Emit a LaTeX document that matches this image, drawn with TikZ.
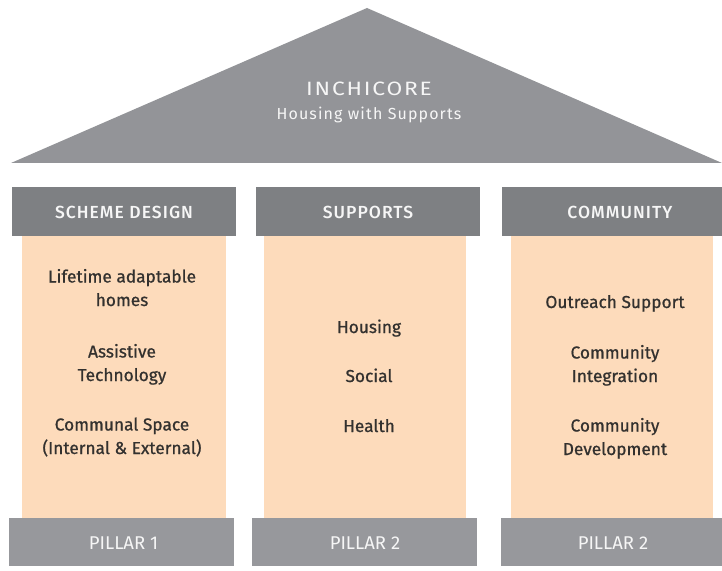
\documentclass[tikz,border=0pt]{standalone}
\usepackage{fontspec}
\setmainfont{Fira Sans}
\newfontfamily\firamed{Fira Sans Medium}
\newfontfamily\firabook{Fira Sans}[FakeBold=0.8]
\definecolor{roofgray}{HTML}{939498}
\definecolor{headgray}{HTML}{7E8083}
\definecolor{pillgray}{HTML}{97989C}
\definecolor{peach}{HTML}{FDDBBB}
\definecolor{txt}{HTML}{33312F}
\definecolor{wtxt}{HTML}{F6F6F6}
\tikzset{
  headbox/.style={fill=headgray, draw=none, minimum height=49bp, inner sep=0pt},
  pillbox/.style={fill=pillgray, draw=none, minimum height=48bp, inner sep=0pt},
  colbox/.style={fill=peach, draw=none, minimum height=282bp, inner sep=0pt},
  headtext/.style={anchor=base, inner sep=0pt, text=wtxt,
    font=\firamed\fontsize{17.5bp}{20bp}\selectfont\addfontfeature{LetterSpace=6}},
  pilltext/.style={anchor=base, inner sep=0pt, text=wtxt,
    font=\fontsize{18.5bp}{20bp}\selectfont},
  item/.style={anchor=base, align=center, inner sep=0pt, text=txt,
    font=\firabook\fontsize{17.3bp}{23.5bp}\selectfont},
}
\begin{document}
\begin{tikzpicture}[x=1bp,y=-1bp]
\useasboundingbox[fill=white] (0,0) rectangle (722,571);
% roof
\coordinate (apex) at (367,8);
\coordinate (bl) at (11,163);
\coordinate (br) at (722,163);
\fill[roofgray] (apex) -- (br) -- (bl) -- cycle;
\node[anchor=base, inner sep=0pt, text=wtxt, font=\fontsize{19.3bp}{21bp}\selectfont\addfontfeature{LetterSpace=8}] (title) at (369,96) {\scalebox{1.18}[1]{INCHICORE}};
\node[anchor=base, inner sep=0pt, text=wtxt, font=\fontsize{16bp}{18bp}\selectfont\addfontfeature{LetterSpace=7}] (subtitle) at (369,119.5) {Housing with Supports};
% columns
\node[colbox, minimum width=203bp] (c1) at (124,377) {};
\node[colbox, minimum width=202bp] (c2) at (365,377) {};
\node[colbox, minimum width=202bp] (c3) at (612,377) {};
% headers
\node[headbox, minimum width=224bp] (h1) at (124,211.5) {};
\node[headbox, minimum width=224bp] (h2) at (368,211.5) {};
\node[headbox, minimum width=220bp] (h3) at (612,211.5) {};
\node[headtext] (h1t) at (124,218.5) {SCHEME DESIGN};
\node[headtext] (h2t) at (368,218.5) {SUPPORTS};
\node[headtext] (h3t) at (620,218.5) {COMMUNITY};
% pillars
\node[pillbox, minimum width=224bp] (p1) at (121.5,542) {};
\node[pillbox, minimum width=225bp] (p2) at (364.5,542) {};
\node[pillbox, minimum width=222bp] (p3) at (611.5,542) {};
\node[pilltext] (p1t) at (123.5,549) {PILLAR 1};
\node[pilltext] (p2t) at (365,549) {PILLAR 2};
\node[pilltext] (p3t) at (613,549) {PILLAR 2};
% column items (base anchor = last line)
\node[item] (a1) at (122,306) {Lifetime adaptable\\homes};
\node[item] (a2) at (122,381) {Assistive\\Technology};
\node[item] (a3) at (122,454) {Communal Space\\(Internal \& External)};
\node[item] (b1) at (369,333) {Housing};
\node[item] (b2) at (369,382) {Social};
\node[item] (b3) at (369,432) {Health};
\node[item] (d1) at (615,308) {Outreach Support};
\node[item] (d2) at (615,382) {Community\\Integration};
\node[item] (d3) at (615,455) {Community\\Development};
\end{tikzpicture}
\end{document}
